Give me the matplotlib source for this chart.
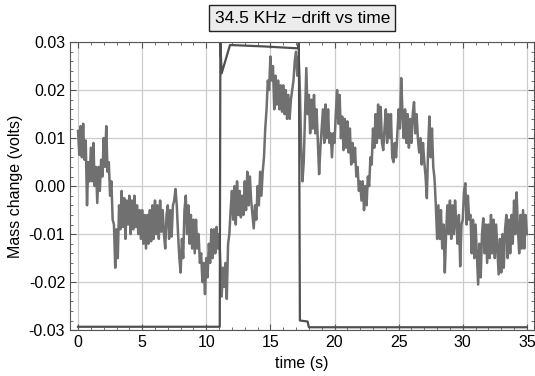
import numpy as np
import matplotlib
matplotlib.use("Agg")
import matplotlib.pyplot as plt
from matplotlib.ticker import MultipleLocator, FormatStrFormatter

plt.rcParams['font.family'] = ['Liberation Sans', 'DejaVu Sans']

# senal de deriva (volts), muestreada cada 0.1 s de 0 a 35 s
tiempo = np.arange(351) * 0.1
deriva = [
    0.0115, 0.0065, 0.0125, 0.0060, 0.0130, 0.0055, 0.0095, -0.0040, 0.0050, 0.0010,
    0.0080, 0.0010, 0.0090, 0.0000, 0.0040, -0.0035, 0.0040, -0.0010, 0.0055, 0.0020,
    0.0100, 0.0040, 0.0125, 0.0030, 0.0050, -0.0020, 0.0010, -0.0070, -0.0080, -0.0170,
    -0.0090, -0.0150, -0.0040, -0.0090, -0.0010, -0.0085, -0.0025, -0.0110, -0.0030, -0.0080,
    -0.0020, -0.0100, -0.0030, -0.0090, -0.0020, -0.0085, -0.0040, -0.0100, -0.0050, -0.0110,
    -0.0050, -0.0120, -0.0060, -0.0130, -0.0060, -0.0120, -0.0050, -0.0115, -0.0040, -0.0110,
    -0.0030, -0.0100, -0.0040, -0.0110, -0.0030, -0.0095, -0.0050, -0.0100, -0.0130, -0.0060,
    -0.0040, -0.0110, -0.0050, -0.0105, -0.0040, -0.0030, -0.0006, -0.0040, -0.0100, -0.0150,
    -0.0180, -0.0110, -0.0150, -0.0050, -0.0020, -0.0100, -0.0040, -0.0120, -0.0060, -0.0130,
    -0.0070, -0.0140, -0.0070, -0.0130, -0.0100, -0.0160, -0.0140, -0.0200, -0.0160, -0.0225,
    -0.0150, -0.0190, -0.0120, -0.0160, -0.0090, -0.0150, -0.0090, -0.0140, -0.0085, -0.0130,
    -0.0100, -0.0160, -0.0230, -0.0170, -0.0210, -0.0160, -0.0235, -0.0120, -0.0100, -0.0050,
    -0.0010, -0.0070, 0.0000, -0.0080, 0.0010, -0.0060, -0.0010, -0.0065, -0.0020, -0.0060,
    0.0010, -0.0050, 0.0030, -0.0040, 0.0020, -0.0030, -0.0060, -0.0088, -0.0040, -0.0070,
    0.0000, -0.0040, 0.0030, -0.0020, 0.0030, 0.0060, 0.0120, 0.0160, 0.0220, 0.0200,
    0.0270, 0.0220, 0.0250, 0.0160, 0.0230, 0.0170, 0.0220, 0.0160, 0.0210, 0.0155,
    0.0210, 0.0150, 0.0200, 0.0140, 0.0190, 0.0140, 0.0180, 0.0200, 0.0220, 0.0260,
    0.0280, 0.0230, 0.0270, 0.0200, 0.0080, 0.0010, 0.0050, 0.0150, 0.0246, 0.0150,
    0.0190, 0.0110, 0.0180, 0.0120, 0.0190, 0.0110, 0.0160, 0.0090, 0.0025, 0.0080,
    0.0120, 0.0160, 0.0090, 0.0170, 0.0100, 0.0160, 0.0090, 0.0110, 0.0060, 0.0110,
    0.0090, 0.0150, 0.0200, 0.0130, 0.0190, 0.0100, 0.0145, 0.0075, 0.0140, 0.0080,
    0.0135, 0.0070, 0.0120, 0.0045, 0.0090, 0.0050, 0.0080, 0.0020, 0.0040, -0.0010,
    0.0010, -0.0030, 0.0010, -0.0050, 0.0000, -0.0040, 0.0020, 0.0000, 0.0060, 0.0045,
    0.0120, 0.0080, 0.0150, 0.0090, 0.0170, 0.0100, 0.0165, 0.0090, 0.0075, 0.0120,
    0.0160, 0.0090, 0.0150, 0.0100, 0.0150, 0.0060, 0.0050, 0.0090, 0.0060, 0.0110,
    0.0160, 0.0120, 0.0225, 0.0150, 0.0100, 0.0160, 0.0090, 0.0150, 0.0080, 0.0140,
    0.0090, 0.0150, 0.0175, 0.0110, 0.0150, 0.0100, 0.0070, 0.0100, 0.0045, 0.0090,
    0.0050, 0.0020, -0.0025, 0.0080, 0.0145, 0.0060, 0.0120, 0.0040, 0.0015, -0.0040,
    -0.0110, -0.0040, -0.0110, -0.0050, -0.0130, -0.0080, -0.0180, -0.0100, -0.0040, -0.0100,
    -0.0030, -0.0110, -0.0040, -0.0100, -0.0030, -0.0080, -0.0120, -0.0060, -0.0167, -0.0080,
    -0.0070, -0.0010, 0.0006, -0.0080, -0.0020, -0.0070, -0.0060, -0.0140, -0.0070, -0.0150,
    -0.0080, -0.0140, -0.0205, -0.0120, -0.0190, -0.0100, -0.0067, -0.0140, -0.0080, -0.0160,
    -0.0080, -0.0150, -0.0060, -0.0140, -0.0070, -0.0150, -0.0080, -0.0130, -0.0184, -0.0110,
    -0.0180, -0.0100, -0.0170, -0.0090, -0.0060, -0.0150, -0.0070, -0.0140, -0.0060, -0.0120,
    -0.0030, -0.0100, -0.0013, -0.0090, -0.0140, -0.0060, -0.0130, -0.0050, -0.0130, -0.0060,
    -0.0100,
]

# pulso (volts)
t_pulso = [0, 11.05, 11.1, 11.2, 11.85, 14.5, 17.15, 17.22, 17.3, 17.9, 18.0, 35]
y_pulso = [-0.0293, -0.0293, 0.0299, 0.0235, 0.0294, 0.0291, 0.0287, 0.0300,
           -0.0280, -0.0282, -0.0294, -0.0294]

fig = plt.figure(figsize=(5.35, 3.76), dpi=100)
ax = fig.add_axes([0.131, 0.122, 0.867, 0.766])

ax.plot(tiempo, deriva, color="#707070", lw=1.8, zorder=3)
ax.plot(t_pulso, y_pulso, color="#505050", lw=1.6, zorder=4)

ax.set_xlim(-0.62, 35.55)
ax.set_ylim(-0.03, 0.03)
ax.xaxis.set_major_locator(MultipleLocator(5))
ax.xaxis.set_minor_locator(MultipleLocator(1))
ax.yaxis.set_major_locator(MultipleLocator(0.01))
ax.yaxis.set_minor_locator(MultipleLocator(0.002))
ax.yaxis.set_major_formatter(FormatStrFormatter('%.2f'))
ax.tick_params(which='both', direction='in', top=True, right=True,
               labelsize=11.5, color="#555555")
ax.tick_params(which='major', length=4)
ax.tick_params(which='minor', length=2)
ax.grid(True, which='major', color="#cccccc", lw=0.9)
ax.set_axisbelow(True)
for s in ax.spines.values():
    s.set_color("#555555")

ax.set_xlabel("time (s)", fontsize=11.5)
ax.set_ylabel("Mass change (volts)", fontsize=11.5)
fig.text(0.565, 0.952, "34.5 KHz \u2212drift vs time", ha="center", va="center",
         fontsize=12.5,
         bbox=dict(boxstyle="square,pad=0.3", facecolor="#ececec", edgecolor="#222222", lw=1))

fig.savefig("out.png", dpi=100)
